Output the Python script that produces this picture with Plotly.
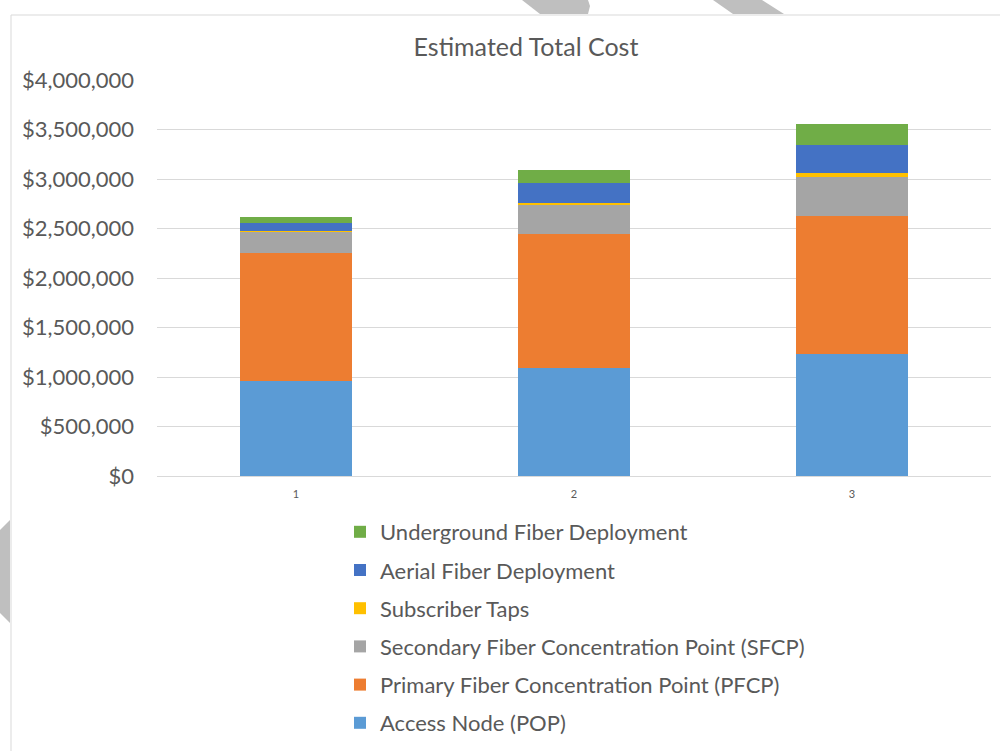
import plotly.graph_objects as go

categories = ["1", "2", "3"]
series_names = [
    "Access Node (POP)",
    "Primary Fiber Concentration Point (PFCP)",
    "Secondary Fiber Concentration Point (SFCP)",
    "Subscriber Taps",
    "Aerial Fiber Deployment",
    "Underground Fiber Deployment",
]
access_node = [957000, 1091000, 1235000]
pfcp = [1299000, 1356000, 1395000]
sfcp = [209000, 293000, 394000]
subscriber_taps = [10000, 20000, 34000]
aerial = [85000, 197000, 290000]
underground = [60000, 133000, 208000]
colors = ["#5B9BD5", "#ED7D31", "#A5A5A5", "#FFC000", "#4472C4", "#70AD47"]
y_tickvals = [0, 500000, 1000000, 1500000, 2000000, 2500000, 3000000, 3500000, 4000000]
y_ticktext = ["$0", "$500,000", "$1,000,000", "$1,500,000", "$2,000,000",
              "$2,500,000", "$3,000,000", "$3,500,000", "$4,000,000"]

W, H = 1000, 751
L, R, T, B = 157, 991, 80, 476

def px(x):
    return (x - L) / (R - L)

def py(y):
    return (B - y) / (B - T)

fig = go.Figure()
all_series = [access_node, pfcp, sfcp, subscriber_taps, aerial, underground]
for i, (name, vals) in enumerate(zip(series_names, all_series)):
    fig.add_trace(go.Bar(
        x=categories, y=vals, name=name, marker=dict(color=colors[i], line=dict(width=0)),
        legendgroup=name, legendrank=100 - i,
    ))

shapes = []
shapes.append(dict(type="rect", xref="paper", yref="paper",
                   x0=px(11), x1=px(1010), y0=py(15), y1=py(760),
                   line=dict(color="#d9d9d9", width=1), fillcolor="rgba(0,0,0,0)", layer="below"))

def path(pts):
    return "M " + " L ".join(f"{px(x):.5f},{py(y):.5f}" for x, y in pts) + " Z"

wm = "#bfbfbf"
shapes.append(dict(type="path", xref="paper", yref="paper",
                   path=path([(522, 0), (588, 0), (590, 6), (588, 14), (540, 14)]),
                   fillcolor=wm, line=dict(width=0)))
shapes.append(dict(type="path", xref="paper", yref="paper",
                   path=path([(713, 0), (762, 0), (784, 14), (733, 14)]),
                   fillcolor=wm, line=dict(width=0)))
shapes.append(dict(type="path", xref="paper", yref="paper",
                   path=path([(0, 530), (10, 520), (10, 623), (0, 613)]),
                   fillcolor=wm, line=dict(width=0)))

fig.update_layout(
    width=W, height=H,
    margin=dict(l=L, r=W - R, t=T, b=H - B, autoexpand=False),
    barmode="stack", bargap=0.597,
    paper_bgcolor="white", plot_bgcolor="white",
    font=dict(family="Lato", color="#595959"),
    title=dict(text="Estimated Total Cost", xref="container", x=526 / W, xanchor="center",
               yref="container", y=1 - 47 / H, yanchor="middle",
               font=dict(size=25, color="#595959", family="Lato")),
    showlegend=True,
    legend=dict(traceorder="grouped", tracegroupgap=6.6,
                x=px(340), xanchor="left", y=py(511), yanchor="top",
                font=dict(size=22, color="#595959", family="Lato"),
                bgcolor="rgba(0,0,0,0)"),
    shapes=shapes,
)
fig.update_yaxes(range=[0, 4000000], tickvals=y_tickvals, ticktext=y_ticktext,
                 showgrid=True, gridcolor="#d9d9d9", gridwidth=1, zeroline=False,
                 showline=False, ticklabelstandoff=22,
                 tickfont=dict(size=22, color="#595959", family="Lato"))
fig.update_xaxes(type="category", showline=True, linecolor="#d9d9d9", linewidth=1,
                 ticks="", ticklabelstandoff=8,
                 tickfont=dict(size=11, color="#595959", family="Lato"))

fig.write_html("out.html")
